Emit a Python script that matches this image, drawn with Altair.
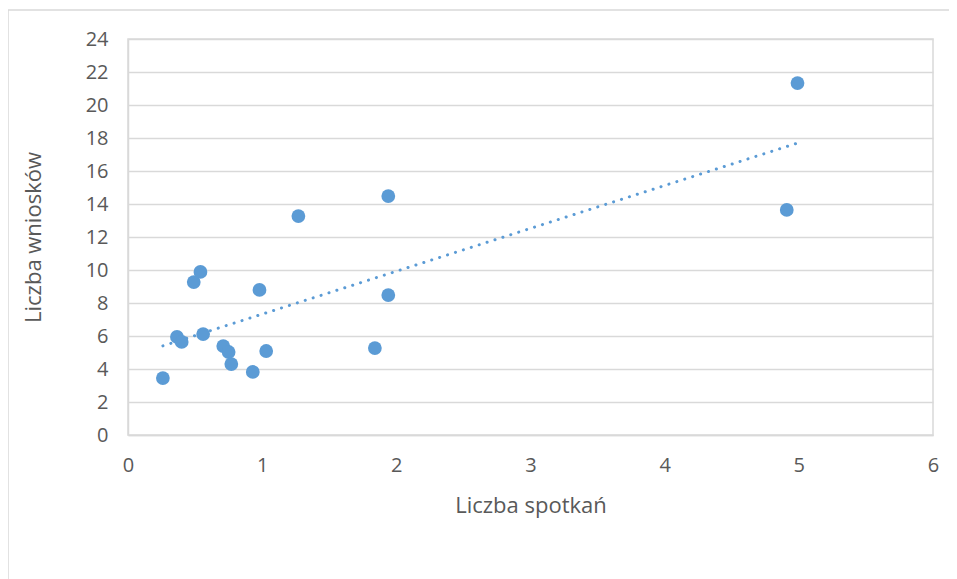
import altair as alt
import pandas as pd

spotkania = [0.26, 0.365, 0.40, 0.49, 0.54, 0.56, 0.71, 0.75, 0.77, 0.93, 0.98, 1.03, 1.27, 1.84, 1.94, 1.94, 4.91, 4.99]
wnioski = [3.45, 5.94, 5.64, 9.27, 9.88, 6.12, 5.39, 5.03, 4.30, 3.82, 8.79, 5.09, 13.27, 5.27, 14.48, 8.48, 13.64, 21.33]
x_ticks = [0, 1, 2, 3, 4, 5, 6]
y_ticks = [0, 2, 4, 6, 8, 10, 12, 14, 16, 18, 20, 22, 24]

df = pd.DataFrame({"x": spotkania, "y": wnioski})

FONT = "Open Sans"
TXT = "#595959"
BLUE = "#5b9bd5"

xaxis = alt.Axis(values=x_ticks, title="Liczba spotkań", grid=False, ticks=False,
                 labelPadding=20, titleY=70, titleBaseline="middle",
                 labelOverlap=False, labelFlush=False, labelBound=False,
                 labelFontSize=20, titleFontSize=22,
                 domainColor="#d9d9d9", domainWidth=1.5, format="d")
yaxis = alt.Axis(values=y_ticks, title="Liczba wniosków", grid=True, ticks=False,
                 labelPadding=20, titleX=-95, titleY=198, titleAngle=-90,
                 titleBaseline="middle", titleAlign="center",
                 labelOverlap=False, labelFlush=False, labelBound=False,
                 labelFontSize=20, titleFontSize=22,
                 gridColor="#d9d9d9", gridWidth=1.5,
                 domainColor="#d9d9d9", domainWidth=1.5, format="d")
xscale = alt.Scale(domain=[0, 6], nice=False, zero=True)
yscale = alt.Scale(domain=[0, 24], nice=False)

one = pd.DataFrame({"a": [0]})
frame_left = alt.Chart(one).mark_rule(stroke="#d9d9d9", strokeWidth=1.5).encode(
    x=alt.value(-120), y=alt.value(-29), y2=alt.value(700))
frame_top = alt.Chart(one).mark_rule(stroke="#d9d9d9", strokeWidth=1.5).encode(
    x=alt.value(-120), x2=alt.value(2000), y=alt.value(-29))

points = alt.Chart(df).mark_circle(size=190, opacity=1, color=BLUE).encode(
    x=alt.X("x:Q", scale=xscale, axis=xaxis), y=alt.Y("y:Q", scale=yscale, axis=yaxis))

trend = alt.Chart(df).transform_regression("x", "y", method="linear").mark_line(
    color=BLUE, strokeWidth=3, strokeDash=[0.1, 8.2], strokeCap="round"
).encode(x=alt.X("x:Q", scale=xscale, axis=xaxis), y=alt.Y("y:Q", scale=yscale, axis=yaxis))

chart = alt.layer(frame_left, frame_top, trend, points).properties(
    width=805, height=396,
    autosize=alt.AutoSizeParams(type="none"),
    padding={"left": 120, "top": 31, "right": 16, "bottom": 144},
).configure_view(stroke="#d9d9d9", strokeWidth=1.5).configure_axis(
    labelFont=FONT, titleFont=FONT,
    labelColor=TXT, titleColor=TXT, labelFontWeight="normal", titleFontWeight="normal"
)

chart.save("out.html", embed_options={"renderer": "svg", "actions": False})
